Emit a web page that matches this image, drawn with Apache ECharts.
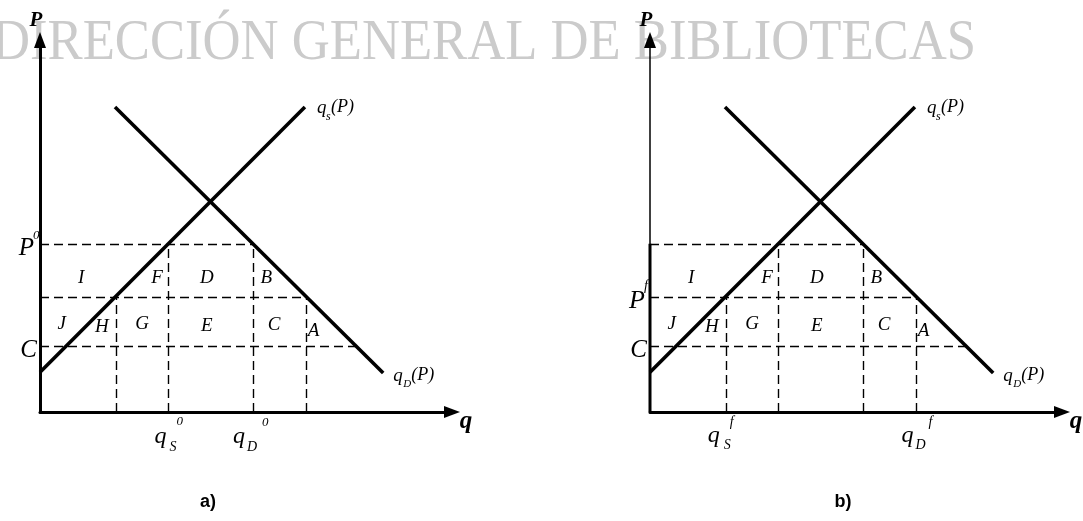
<!DOCTYPE html>
<html><head><meta charset="utf-8">
<script src="https://cdn.jsdelivr.net/npm/echarts@6/dist/echarts.min.js"></script>
<style>html,body{margin:0;padding:0;background:#fff}#c{width:1083px;height:521px}</style>
</head><body><div id="c"></div>
<script>
// ---------- data (abstract q – P units) ----------
const panelCaptions = ['a)', 'b)'];
const supplyLine = [[0, 10.7], [64.3, 82]];
const demandLine = [[18.2, 82], [83.3, 10.5]];
const priceP0 = 45.2;     // P^0
const priceF = 30.9;      // P^f (world price level)
const priceC = 17.7;      // C
const qSf = 18.6;         // q_S at P^f
const qS0 = 31.2;         // q_S at P^0
const qD0 = 51.7;         // q_D at P^0
const qDf = 64.7;         // q_D at P^f
const qDc = 76.8;         // q_D at C
const regionLabels = [
  ['I', 10.0, 36.0], ['F', 28.4, 36.0], ['D', 40.5, 36.0], ['B', 54.9, 36.0],
  ['J', 5.3, 23.6], ['H', 15.0, 22.8], ['G', 24.8, 23.6], ['E', 40.5, 23.2],
  ['C', 56.8, 23.4], ['A', 66.4, 21.8]
];
const watermark = 'DIRECCIÓN GENERAL DE BIBLIOTECAS';

const dashSegments = [
  [[0, priceP0], [qD0, priceP0]],
  [[0, priceF], [qDf, priceF]],
  [[0, priceC], [qDc, priceC]],
  [[qSf, 0], [qSf, priceF]],
  [[qS0, 0], [qS0, priceP0]],
  [[qD0, 0], [qD0, priceP0]],
  [[qDf, 0], [qDf, priceF]]
];

const SERIF = '"Liberation Serif", "DejaVu Serif", serif';
const chart = echarts.init(document.getElementById('c'), null, {renderer: 'canvas'});

const grids = [
  {left: 40, top: 40, width: 412, height: 372},
  {left: 650, top: 40, width: 412, height: 372}
];
function axis(i, w) {
  return {
    type: 'value', min: 0, max: 100, gridIndex: i,
    axisLine: {show: true, symbol: ['none', 'triangle'], symbolSize: [12, 16],
      lineStyle: {color: '#000', width: w}},
    axisTick: {show: false}, axisLabel: {show: false}, splitLine: {show: false}
  };
}
const series = [];
[0, 1].forEach(function (i) {
  series.push({type: 'lines', coordinateSystem: 'cartesian2d', xAxisIndex: i, yAxisIndex: i,
    silent: true, z: 3,
    lineStyle: {color: '#000', width: 1.4, type: [9, 5], opacity: 1},
    data: dashSegments.map(function (s) { return {coords: s}; })});
  series.push({type: 'line', xAxisIndex: i, yAxisIndex: i, data: supplyLine, symbol: 'none',
    silent: true, z: 4, lineStyle: {color: '#000', width: 3.6}});
  series.push({type: 'line', xAxisIndex: i, yAxisIndex: i, data: demandLine, symbol: 'none',
    silent: true, z: 4, lineStyle: {color: '#000', width: 3.6}});
});
// thicker lower part of the price axis in panel b
series.push({type: 'line', xAxisIndex: 1, yAxisIndex: 1, data: [[0, 0], [0, priceP0]], symbol: 'none',
  silent: true, z: 4, lineStyle: {color: '#000', width: 3}});

chart.setOption({
  animation: false,
  backgroundColor: '#fff',
  grid: grids,
  xAxis: [axis(0, 3), axis(1, 3)],
  yAxis: [axis(0, 3), axis(1, 1.5)],
  series: series
});

function px(i, q, p) { return chart.convertToPixel({gridIndex: i}, [q, p]); }
function txt(x, y, s, size, opts) {
  opts = opts || {};
  return {type: 'text', x: x, y: y, z: 20, silent: true,
    style: {text: s, font: (opts.weight || '') + ' ' + (opts.italic === false ? '' : 'italic ') + size + 'px ' + (opts.family || SERIF),
      fill: '#000', textAlign: opts.align || 'left', textVerticalAlign: 'middle'}};
}

const g = [];
g.push({type: 'text', x: -8, y: 44, z: -5, scaleX: 0.94, silent: true,
  style: {text: watermark, font: '56px ' + SERIF, fill: '#cbcbcb', textAlign: 'left', textVerticalAlign: 'middle'}});

[0, 1].forEach(function (i) {
  const o = px(i, 0, 0);
  const top = px(i, 0, 100);
  const right = px(i, 100, 0);
  // axis names
  g.push(txt(top[0] - 4, top[1] - 19, 'P', 21, {weight: 'bold', align: 'center'}));
  g.push(txt(right[0] + 14, right[1] + 10, 'q', 25, {weight: 'bold', align: 'center'}));
  // curve labels
  const se = px(i, supplyLine[1][0], supplyLine[1][1]);
  g.push(txt(se[0] + 12, se[1] + 1, 'q', 19));
  g.push(txt(se[0] + 21, se[1] + 10, 's', 12));
  g.push(txt(se[0] + 26, se[1], '(P)', 18));
  const de = px(i, demandLine[1][0], demandLine[1][1]);
  g.push(txt(de[0] + 10, de[1] + 3, 'q', 19));
  g.push(txt(de[0] + 20, de[1] + 11, 'D', 11));
  g.push(txt(de[0] + 28, de[1] + 2, '(P)', 18));
  // price labels
  const pc = px(i, 0, priceC);
  g.push(txt(pc[0] - 3, pc[1] + 4, 'C', 25, {align: 'right'}));
  if (i === 0) {
    const p0 = px(i, 0, priceP0);
    g.push(txt(p0[0] - 6, p0[1] + 5, 'P', 25, {align: 'right'}));
    g.push(txt(p0[0] - 7, p0[1] - 8, '0', 13));
    const a = px(i, qS0, 0);
    g.push(txt(a[0] - 14, a[1] + 25, 'q', 24));
    g.push(txt(a[0] + 1, a[1] + 35, 'S', 14));
    g.push(txt(a[0] + 8, a[1] + 10, '0', 13));
    const b = px(i, qD0, 0);
    g.push(txt(b[0] - 20, b[1] + 25, 'q', 24));
    g.push(txt(b[0] - 6, b[1] + 35, 'D', 14));
    g.push(txt(b[0] + 9, b[1] + 11, '0', 13));
  } else {
    const pf = px(i, 0, priceF);
    g.push(txt(pf[0] - 5, pf[1] + 4, 'P', 26, {align: 'right'}));
    g.push(txt(pf[0] - 6, pf[1] - 11, 'f', 14));
    const a = px(i, qSf, 0);
    g.push(txt(a[0] - 19, a[1] + 24, 'q', 24));
    g.push(txt(a[0] - 3, a[1] + 33, 'S', 14));
    g.push(txt(a[0] + 3, a[1] + 10, 'f', 14));
    const b = px(i, qDf, 0);
    g.push(txt(b[0] - 15, b[1] + 24, 'q', 24));
    g.push(txt(b[0] - 1, b[1] + 33, 'D', 14));
    g.push(txt(b[0] + 12, b[1] + 10, 'f', 14));
  }
  // region labels
  regionLabels.forEach(function (r) {
    const p = px(i, r[1], r[2]);
    g.push(txt(p[0], p[1], r[0], 19, {align: 'center'}));
  });
  // caption
  g.push(txt(o[0] + (i === 0 ? 168 : 193), o[1] + 90, panelCaptions[i], 18,
    {weight: 'bold', italic: false, family: '"Liberation Sans", Arial, sans-serif', align: 'center'}));
});
chart.setOption({graphic: g});
</script></body></html>
